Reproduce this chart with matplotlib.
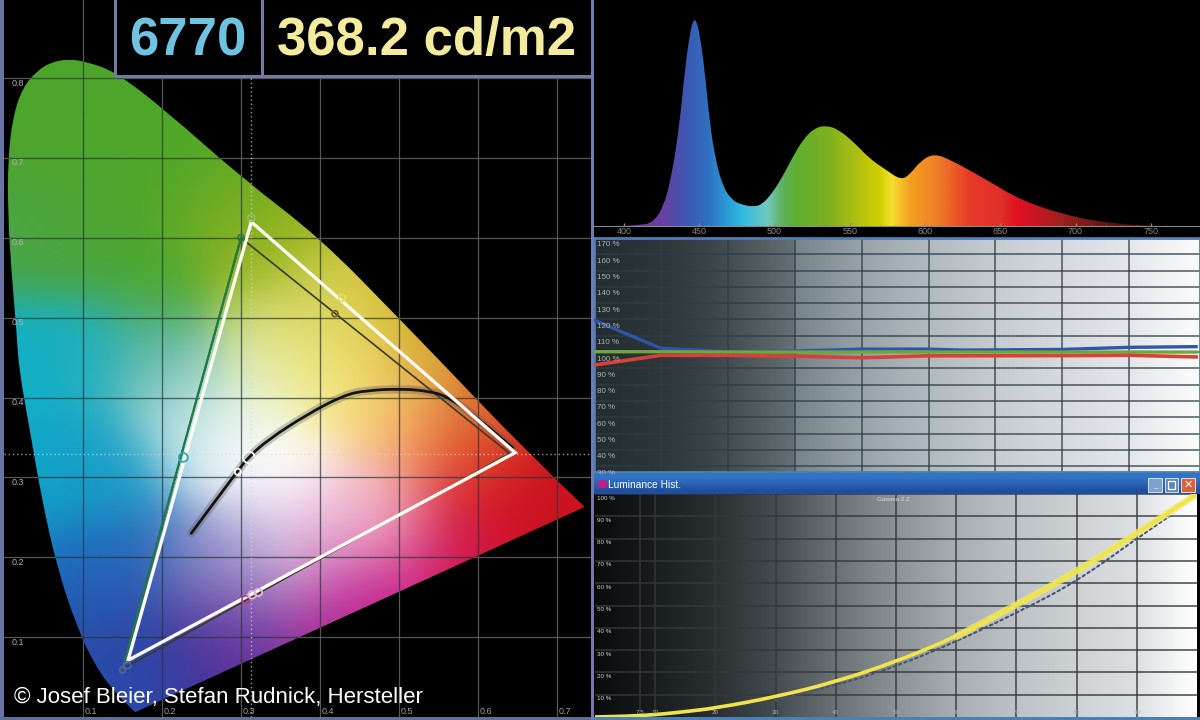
import matplotlib; matplotlib.use("Agg")
import matplotlib.pyplot as plt
import numpy as np
from matplotlib.colors import to_rgb
from matplotlib.patches import PathPatch, Rectangle
from matplotlib.path import Path

plt.rcParams["font.family"] = ["Liberation Sans", "DejaVu Sans"]

W, H = 1200, 720

# --- CIE panel: horseshoe outline, anticlockwise from the purple corner
LOCUS_X = [0.735, 0.663, 0.547, 0.499, 0.400, 0.300, 0.204, 0.141, 0.106, 0.082, 0.060, 0.043, 0.024,
           0.011, 0.005, 0.005, 0.009, 0.016, 0.019, 0.032, 0.048, 0.067, 0.092, 0.116, 0.141, 0.166]
LOCUS_Y = [0.263, 0.331, 0.451, 0.500, 0.600, 0.676, 0.760, 0.808, 0.820, 0.824, 0.820, 0.810, 0.789,
           0.751, 0.697, 0.631, 0.563, 0.481, 0.435, 0.363, 0.272, 0.188, 0.113, 0.063, 0.030, 0.006]

# colours at a number of (x, y) spots
SPOT_X = [0.08, 0.20, 0.28, 0.10, 0.20, 0.30, 0.33, 0.42, 0.52, 0.60, 0.35, 0.40, 0.45, 0.33, 0.50, 0.55,
          0.60, 0.68, 0.72, 0.60, 0.50, 0.55, 0.45, 0.45, 0.35, 0.30, 0.25, 0.22, 0.20, 0.10, 0.03, 0.10,
          0.05, 0.15, 0.10, 0.15, 0.13, 0.17, 0.25, 0.30, 0.35, 0.25, 0.30, 0.40, 0.40, 0.30, 0.50, 0.60,
          0.08, 0.03]
SPOT_Y = [0.78, 0.70, 0.64, 0.60, 0.55, 0.61, 0.58, 0.50, 0.45, 0.37, 0.50, 0.45, 0.42, 0.42, 0.38, 0.36,
          0.33, 0.29, 0.265, 0.27, 0.25, 0.20, 0.15, 0.25, 0.30, 0.33, 0.35, 0.40, 0.45, 0.45, 0.45, 0.30,
          0.30, 0.30, 0.20, 0.20, 0.12, 0.05, 0.20, 0.20, 0.22, 0.10, 0.10, 0.10, 0.20, 0.15, 0.12, 0.20,
          0.68, 0.60]
SPOT_C = ["#4ca52a", "#4fa728", "#5aa828", "#4fa535", "#4aa82c", "#88b020", "#a8b818", "#d0c030", "#c8a018",
          "#c87020", "#d8e080", "#f5f090", "#fae878", "#e8f0c0", "#fcd090", "#f58a40", "#e83030", "#c8101c",
          "#cc1420", "#d01020", "#f0a0b0", "#d01880", "#c02090", "#f8d0e0", "#ffffff", "#ffffff", "#e0f0f8",
          "#a8d8d0", "#50b0a0", "#20b0c0", "#10b0c8", "#10a0c8", "#10a8c8", "#20a0c8", "#1a6cc0", "#2a60b8",
          "#2a4ca8", "#2a48a8", "#7080c0", "#b0b0e0", "#f0e0f0", "#403098", "#602898", "#a02898", "#d880c0",
          "#9060b0", "#c8208a", "#d0102c", "#4fa52c", "#4aa548"]

CIE_TICKS_X = [0.1, 0.2, 0.3, 0.4, 0.5, 0.6, 0.7]
CIE_TICKS_Y = [0.1, 0.2, 0.3, 0.4, 0.5, 0.6, 0.7, 0.8]
WHITE_X, WHITE_Y = 0.313, 0.329

MEAS_X = [0.313, 0.647, 0.157]   # green, red, blue primaries (white triangle)
MEAS_Y = [0.620, 0.331, 0.071]
REF_X = [0.30, 0.64, 0.15]       # reference triangle
REF_Y = [0.60, 0.33, 0.06]

PLANCK_X = [0.237, 0.252, 0.295, 0.310, 0.334, 0.382, 0.430, 0.459, 0.504, 0.538, 0.562, 0.600, 0.644]
PLANCK_Y = [0.230, 0.250, 0.307, 0.326, 0.347, 0.378, 0.403, 0.409, 0.411, 0.408, 0.401, 0.374, 0.337]

POINT_X = [0.313, 0.300, 0.428, 0.419, 0.227, 0.310, 0.296, 0.306, 0.314, 0.322, 0.156, 0.150]
POINT_Y = [0.625, 0.600, 0.525, 0.505, 0.325, 0.325, 0.307, 0.147, 0.153, 0.156, 0.065, 0.059]
POINT_S = [26, 20, 24, 18, 40, 70, 20, 30, 30, 30, 24, 18]
POINT_C = ["#8cc060", "#2f7a40", "#e8e060", "#706a20", "#30a8a8", "#ffffff", "#ffffff", "#b04090", "#e8b0d8",
           "#e8b0d8", "#5060a8", "#5060a8"]

# --- spectrum
WAVE = [400, 411, 419, 426, 431.5, 437, 440.5, 444, 446, 447, 448, 450, 453.5, 457, 461, 466, 471.5, 477, 486,
        492, 498.7, 505, 511.6, 519, 527, 535, 542.6, 553, 563, 573.6, 584, 590, 597, 606, 617.6, 630.5, 646,
        659, 674.4, 692.5, 713, 734, 752]
SPEC = [0, 0.005, 0.016, 0.09, 0.235, 0.50, 0.77, 0.95, 1.0, 1.005, 1.0, 0.95, 0.77, 0.50, 0.317, 0.187, 0.13,
        0.106, 0.093, 0.106, 0.163, 0.236, 0.33, 0.423, 0.48, 0.49, 0.47, 0.407, 0.33, 0.276, 0.224, 0.252, 0.317,
        0.354, 0.32, 0.268, 0.203, 0.146, 0.098, 0.057, 0.024, 0.008, 0]
WAVE_TICKS = [400, 450, 500, 550, 600, 650, 700, 750]
HUE_WAVE = [405, 425, 440, 455, 470, 480, 495, 505, 515, 535, 555, 570, 578, 590, 610, 630, 650, 662, 690, 730]
HUE_C = ["#6a3a9a", "#6b3fa0", "#3f55b0", "#2f6fc0", "#2aa0d8", "#35bde0", "#70c8c0", "#60b060", "#5eaf30",
         "#7cb020", "#b0c010", "#d0d000", "#f5e030", "#f5a020", "#ee7a28", "#e83828", "#e03028", "#e01020",
         "#a02020", "#501010"]

# --- RGB balance
BAL_X = [0, 10, 20, 30, 40, 50, 55, 70, 80, 90]
BAL_BLUE = [119.6, 102.3, 100.2, 100.6, 101.8, 101.8, 101.2, 101.6, 102.9, 103.3]
BAL_GREEN = [100.2, 100.2, 100, 100, 100, 100, 100, 100, 100, 100]
BAL_RED = [92, 98, 98, 97.5, 96.5, 97.7, 97.7, 97.8, 98, 97]
BAL_YTICKS = [30, 40, 50, 60, 70, 80, 90, 100, 110, 120, 130, 140, 150, 160, 170]
BAL_XGRID = [10, 20, 30, 40, 50, 60, 70, 80]
BAL_GREY_X = [0, 10, 16, 20, 25, 29.8, 30.2, 40, 50, 60, 70, 80, 90]
BAL_GREY_C = ["#232d2f", "#2d3739", "#384244", "#434d4f", "#545e60", "#667074", "#78838a", "#98a2a8", "#b2babe",
              "#c6ccd0", "#d6dade", "#e4e6ea", "#fbfbfb"]

# --- luminance curve
LUM_X = [0, 5, 10, 15, 20, 30, 40, 50, 60, 70, 80, 90, 100]
LUM_Y = [0, 0.3, 1, 2.4, 4, 9, 15.8, 24.8, 36, 50.2, 65.2, 82.4, 100]
GAM_X = [30, 40, 50, 60, 70, 80, 90, 95.4]
GAM_Y = [7.6, 14, 22.6, 33.8, 46.6, 60.7, 80, 90]
LUM_YTICKS = [10, 20, 30, 40, 50, 60, 70, 80, 90, 100]
LUM_XGRID = [7.5, 10, 20, 30, 40, 50, 60, 70, 80, 90]
LUM_GREY_X = [0, 7.5, 20, 30, 40, 50, 60, 70, 80, 90, 100]
LUM_GREY_C = ["#0a0c0c", "#141818", "#2a3032", "#444c50", "#6a7276", "#8a9296", "#a8aeb2", "#bcc2c6", "#ced2d4",
              "#dde0e2", "#ffffff"]


def pxaxes(left, top, right, bottom, **kw):
    # axes placed by reference pixels, y counted from the top
    return fig.add_axes([left / W, 1 - bottom / H, (right - left) / W, (bottom - top) / H], **kw)


def grey_strip(xs, cols, x0, x1):
    grid = np.linspace(x0, x1, 600)
    rgb = np.array([to_rgb(c) for c in cols])
    return np.stack([np.interp(grid, xs, rgb[:, i]) for i in range(3)], axis=-1)[None, :, :]


def soft_path(xs, ys, closed=False):
    # quadratic curve through the midpoints, the read points act as control points
    p = np.column_stack([xs, ys])
    mid = (p[:-1] + p[1:]) / 2
    verts, codes = [p[0]], [Path.MOVETO]
    for ctrl, end in zip(p[1:-1], mid[1:]):
        verts += [ctrl, end]; codes += [Path.CURVE3, Path.CURVE3]
    verts.append(p[-1]); codes.append(Path.LINETO)
    if closed:
        verts.append(p[0]); codes.append(Path.CLOSEPOLY)
    return Path(verts, codes)


def curve(ax, xs, ys, **kw):
    patch = PathPatch(soft_path(xs, ys), fc="none", capstyle="round", **kw)
    ax.add_patch(patch)
    return patch


fig = plt.figure(figsize=(W / 100, H / 100), dpi=100, facecolor="black")

# ---------- chromaticity diagram
ax = pxaxes(4, 0, 592, 717, facecolor="black")
ax.set_xlim(0, 588 / 790); ax.set_ylim(0, 717 / 798.6)
ax.set_xticks(CIE_TICKS_X); ax.set_yticks(CIE_TICKS_Y)
ax.tick_params(length=0, labelbottom=False, labelleft=False)
ax.grid(True, color="#565656", lw=0.9); ax.set_axisbelow(True)
for s in ax.spines.values(): s.set_visible(False)

gx, gy = np.meshgrid(np.linspace(0, 0.75, 300), np.linspace(0, 0.85, 340))
sx, sy, sc = np.array(SPOT_X), np.array(SPOT_Y), np.array([to_rgb(c) for c in SPOT_C])
dist = np.hypot(gx[..., None] - sx, gy[..., None] - sy)
wt = np.exp(-dist ** 2 / (2 * 0.05 ** 2)) + 1e-12
img = (wt[..., None] * sc).sum(axis=2) / wt.sum(axis=2, keepdims=True)
shape = PathPatch(soft_path(LOCUS_X, LOCUS_Y, closed=True), fc="none", ec="none", transform=ax.transData)
ax.add_patch(shape)
im = ax.imshow(img, extent=(0, 0.75, 0, 0.85), origin="lower", aspect="auto", interpolation="bilinear", zorder=2)
im.set_clip_path(shape)
ax.set_xlim(0, 588 / 790); ax.set_ylim(0, 717 / 798.6)

for v in CIE_TICKS_X:
    ax.axvline(v, color="#28343a", lw=1, alpha=0.7, zorder=3, clip_path=shape)
for v in CIE_TICKS_Y:
    ax.axhline(v, color="#28343a", lw=1, alpha=0.7, zorder=3, clip_path=shape)
ax.axhline(WHITE_Y, color="#d8d8d8", lw=1, ls=(0, (1, 2)), alpha=0.7, zorder=3)
ax.axvline(WHITE_X, color="#d8d8d8", lw=1, ls=(0, (1, 2)), alpha=0.7, zorder=3)

ax.plot(REF_X + REF_X[:1], REF_Y + REF_Y[:1], color="#3a3a28", lw=1.2, zorder=4)
ax.plot([REF_X[0], REF_X[2]], [REF_Y[0], REF_Y[2]], color="#1f7a48", lw=1.6, zorder=4)
curve(ax, PLANCK_X, PLANCK_Y, ec="#505050", lw=6, alpha=0.3, zorder=4)
curve(ax, PLANCK_X, PLANCK_Y, ec="#141414", lw=2, zorder=5)
ax.plot(MEAS_X + MEAS_X[:1], MEAS_Y + MEAS_Y[:1], color="#fbfbf4", lw=2.4, zorder=6, solid_joinstyle="miter")
ax.scatter(POINT_X, POINT_Y, s=POINT_S, facecolors="none", edgecolors=POINT_C, linewidths=1.3, zorder=7)

for v in CIE_TICKS_Y:
    ax.annotate(f"{v:.1f}", (0, v), xytext=(8, -5), textcoords="offset pixels", color="#b0b0b0", fontsize=6.5,
                va="center", zorder=8)
for v in CIE_TICKS_X:
    ax.annotate(f"{v:.1f}", (v, 0), xytext=(8, 6), textcoords="offset pixels", color="#a0a0a0", fontsize=6.5,
                ha="center", va="center", zorder=8)

fig.text(14 / W, 1 - 698 / H, "© Josef Bleier, Stefan Rudnick, Hersteller", color="white", fontsize=16,
         va="center", zorder=20)

# header box with the two readouts
hd = pxaxes(115, -2, 592, 76, facecolor="black")
hd.set_xlim(115, 592); hd.set_ylim(76, -2)
hd.set_xticks([]); hd.set_yticks([])
for s in hd.spines.values(): s.set_color("#737aa6"); s.set_linewidth(2.2)
hd.axvline(262, color="#737aa6", lw=2.2)
hd.text(188, 55, "6770", color="#6fc3e2", fontsize=38, weight="bold", ha="center", va="baseline")
hd.text(427, 55, "368.2 cd/m2", color="#f4ec9c", fontsize=38, weight="bold", ha="center", va="baseline")

# ---------- spectrum
sp = pxaxes(594, 0, 1200, 226, facecolor="black")
hues = grey_strip(HUE_WAVE, HUE_C, 380, 780)
im = sp.imshow(hues, extent=(380, 780, 0, 1.1), aspect="auto", interpolation="bilinear")
clip = PathPatch(soft_path(WAVE, SPEC, closed=True), fc="none", ec="none", transform=sp.transData)
sp.add_patch(clip); im.set_clip_path(clip)
sp.set_xlim(400 - 30 / 1.505, 400 + 576 / 1.505); sp.set_ylim(0, 226 / 205)
sp.set_xticks(WAVE_TICKS); sp.set_xticks(np.arange(400, 770, 10), minor=True)
sp.set_yticks([])
sp.tick_params(axis="x", colors="#8a8a8a", labelsize=6.5, length=2, width=1, direction="in", pad=1)
sp.tick_params(axis="x", which="minor", length=1, width=0.6, colors="#777777", direction="in")
for s in ("top", "left", "right"): sp.spines[s].set_visible(False)
sp.spines["bottom"].set_color("#8a8a8a")

# ---------- RGB balance
ba = pxaxes(594, 238, 1200, 472)
ba.imshow(grey_strip(BAL_GREY_X, BAL_GREY_C, 0, 606 / 6.69), extent=(0, 606 / 6.69, 0, 200), aspect="auto",
          interpolation="bilinear", zorder=0)
ba.set_xlim(0, 606 / 6.69); ba.set_ylim(100 - 120 / 1.63, 100 + 114 / 1.63)
ba.set_xticks(BAL_XGRID); ba.set_yticks(BAL_YTICKS)
ba.tick_params(length=0, labelbottom=False, labelleft=False)
ba.grid(True, color="#2c3e48", lw=1.1, alpha=0.85)
for line in ba.get_xgridlines() + ba.get_ygridlines(): line.set_zorder(1)
ba.plot(BAL_X, BAL_BLUE, color="#2f55a8", lw=2.4, zorder=3)
ba.plot(BAL_X, BAL_GREEN, color="#6fa83a", lw=2.4, zorder=3)
ba.plot(BAL_X, BAL_RED, color="#d8403a", lw=2.6, zorder=4)
for v in BAL_YTICKS:
    ba.annotate(f"{v} %", (0, v), xytext=(3, -7), textcoords="offset pixels", color="#aab4b4", fontsize=5.8,
                va="center", zorder=5)
for s in ba.spines.values(): s.set_color("#4a7fb8"); s.set_linewidth(2)

# ---------- luminance window
tb = pxaxes(594, 474, 1200, 494)
bar = np.array([[to_rgb("#2f74c8")], [to_rgb("#2a62b4")], [to_rgb("#1f4f9c")]])
tb.imshow(bar, extent=(594, 1200, 494, 474), aspect="auto", interpolation="bilinear")
tb.set_xlim(594, 1200); tb.set_ylim(494, 474); tb.axis("off")
tb.add_patch(Rectangle((598, 480), 9, 8, fc="#c0208a", ec="none"))
tb.text(608, 484.5, "Luminance Hist.", color="white", fontsize=7.3, va="center")
tb.add_patch(Rectangle((1148, 478), 14, 14, fc="#7f9fd0", ec="#d0dcf0", lw=0.8))
tb.add_patch(Rectangle((1165, 478), 13, 14, fc="#5f86c0", ec="#d0dcf0", lw=0.8))
tb.add_patch(Rectangle((1181, 478), 14, 14, fc="#d8603c", ec="#f0d0c0", lw=0.8))
tb.text(1188, 485, "✕", color="white", fontsize=8, ha="center", va="center", family="DejaVu Sans")
tb.text(1155, 489, "_", color="white", fontsize=6, ha="center", va="bottom")
tb.add_patch(Rectangle((1168, 481), 7, 8, fc="none", ec="white", lw=0.9))

lu = pxaxes(595, 494, 1197, 717)
lu.imshow(grey_strip(LUM_GREY_X, LUM_GREY_C, 0, 100), extent=(0, 100, 0, 100), aspect="auto",
          interpolation="bilinear", zorder=0)
lu.set_xlim(0, 100); lu.set_ylim(0, 100)
lu.set_xticks(LUM_XGRID); lu.set_yticks(LUM_YTICKS)
lu.tick_params(length=0, labelbottom=False, labelleft=False)
lu.grid(True, color="#33383a", lw=1.2, alpha=0.85)
for line in lu.get_xgridlines() + lu.get_ygridlines(): line.set_zorder(1)
curve(lu, GAM_X, GAM_Y, ec="#4a5270", lw=1.5, ls=(0, (1.2, 1.6)), zorder=3)
curve(lu, LUM_X[8:], LUM_Y[8:], ec="#f0e86a", lw=5, alpha=0.75, zorder=4)
curve(lu, LUM_X, LUM_Y, ec="#f0e44a", lw=2.6, zorder=4)
lu.text(32, 96, "", color="white")
lu.text(49.5, 97.5, "Gamma 2.2", color="#d8dcdc", fontsize=4.5, ha="center", va="center", zorder=5)
for v in LUM_YTICKS:
    lu.annotate(f"{v} %", (0, v), xytext=(2, -4), textcoords="offset pixels", color="#c8d0d0", fontsize=4.5,
                va="center", zorder=5)
for v in LUM_XGRID:
    lu.annotate(f"{v:g}", (v, 0), xytext=(0, 4), textcoords="offset pixels", color="#aab0b0", fontsize=4.5,
                ha="center", va="center", zorder=5)
for s in lu.spines.values(): s.set_visible(False)

# ---------- window frames
fig.add_artist(Rectangle((0, 0), 3.5 / W, 1, fc="#6a74a2", ec="none", transform=fig.transFigure))
fig.add_artist(Rectangle((0, 0), 592 / W, 3 / H, fc="#5f6f98", ec="none", transform=fig.transFigure))
fig.add_artist(Rectangle((590.5 / W, 0), 3.5 / W, 1, fc="#6f7cac", ec="none", transform=fig.transFigure))
fig.add_artist(Rectangle((594 / W, 0), 606 / W, 3 / H, fc="#4a7fb8", ec="none", transform=fig.transFigure))

fig.savefig("out.png", dpi=100, facecolor="black")
